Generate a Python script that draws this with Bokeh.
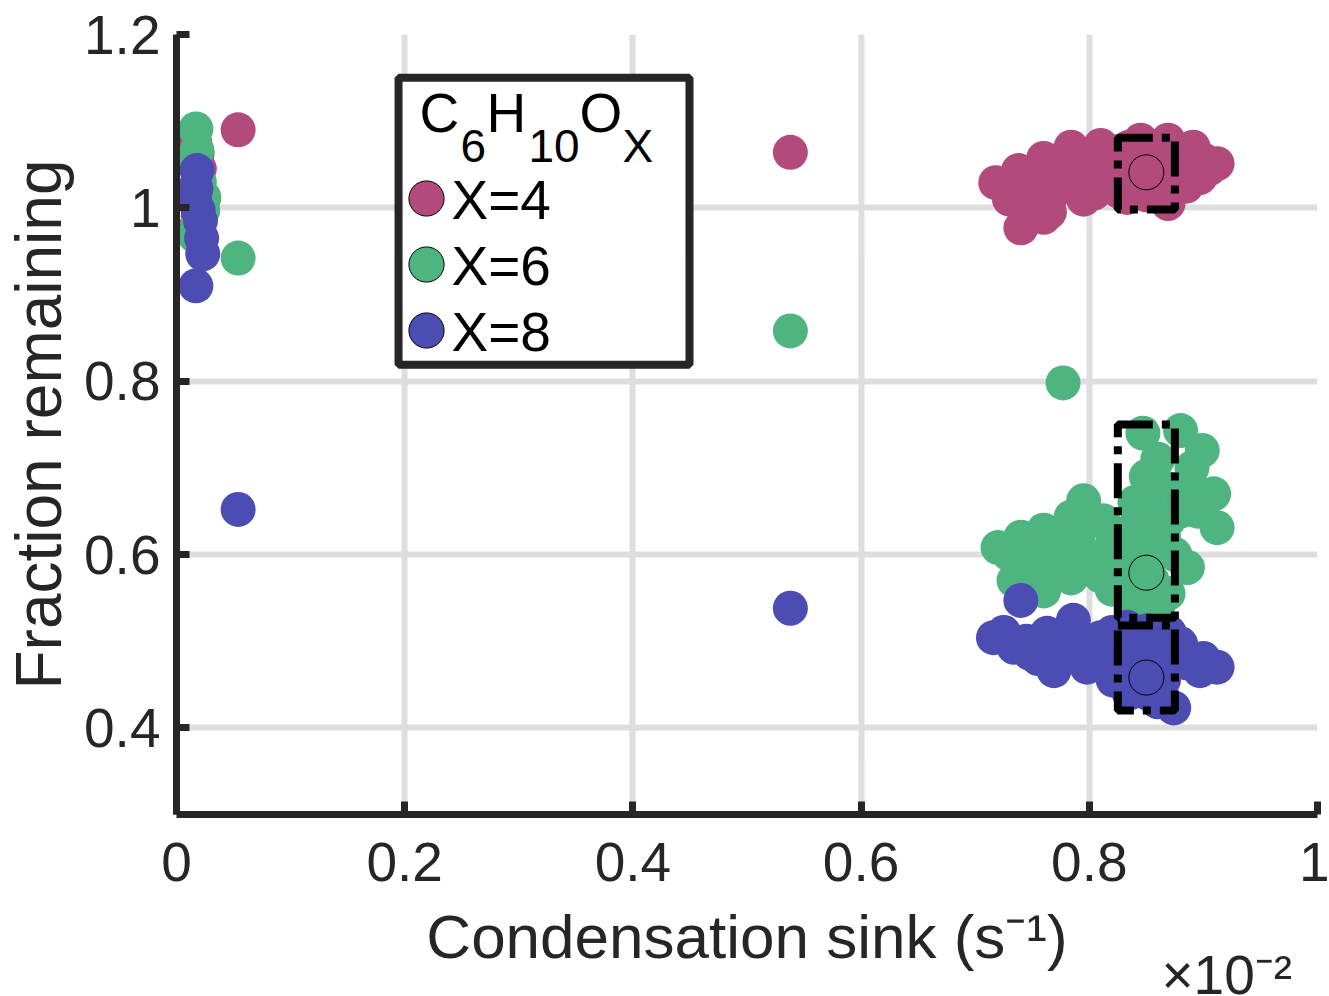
from bokeh.plotting import figure
from bokeh.models import Range1d, FixedTicker, Label, Legend, LegendItem, BoxAnnotation, Title
from bokeh.embed import file_html
from bokeh.resources import INLINE

# ---------------- data ----------------
x_ticks = [0, 0.2, 0.4, 0.6, 0.8, 1.0]
x_tick_labels = ["0", "0.2", "0.4", "0.6", "0.8", "1"]
y_ticks = [0.4, 0.6, 0.8, 1.0, 1.2]
y_tick_labels = ["0.4", "0.6", "0.8", "1", "1.2"]

series_names = ["X=4", "X=6", "X=8"]
series_colors = ["#B24A7C", "#4EB581", "#4C4DB2"]

x4 = [0.016, 0.018, 0.020, 0.017, 0.022, 0.019, 0.016, 0.021,
      0.054, 0.538,
      0.718, 0.740, 0.760, 0.738, 0.760, 0.784, 0.810, 0.804, 0.833, 0.869,
      0.869, 0.891, 0.912, 0.897, 0.845, 0.775, 0.730, 0.750, 0.770, 0.790,
      0.800, 0.820, 0.825, 0.840, 0.855, 0.860, 0.875, 0.880, 0.900, 0.905,
      0.885, 0.850, 0.815, 0.795, 0.745, 0.755, 0.830, 0.865,
      0.735, 0.765, 0.780, 0.810, 0.825, 0.835, 0.850, 0.870, 0.890, 0.895,
      0.860, 0.815, 0.790, 0.765]
y4 = [1.075, 1.062, 1.045, 1.025, 1.005, 0.990, 0.975, 1.012,
      1.090, 1.064,
      1.029, 0.977, 0.989, 1.043, 1.057, 1.070, 1.072, 1.017, 1.012, 1.005,
      1.078, 1.070, 1.051, 1.035, 1.078, 1.024, 1.010, 1.020, 1.045, 1.040,
      1.055, 1.045, 1.065, 1.030, 1.050, 1.065, 1.040, 1.060, 1.055, 1.045,
      1.025, 1.015, 1.030, 1.010, 1.000, 1.035, 1.050, 1.030,
      1.025, 1.010, 1.055, 1.050, 1.020, 1.070, 1.065, 1.055, 1.045, 1.060,
      1.020, 1.060, 1.025, 0.995]

x6 = [0.017, 0.018, 0.016, 0.020, 0.024, 0.023, 0.019, 0.016, 0.021,
      0.054, 0.538, 0.777,
      0.847, 0.880, 0.899, 0.860, 0.891, 0.909, 0.912, 0.886, 0.851, 0.869,
      0.795, 0.784, 0.760, 0.740, 0.720, 0.734, 0.760, 0.784, 0.819, 0.812,
      0.839, 0.862, 0.848, 0.869, 0.833, 0.804, 0.772, 0.750, 0.828, 0.855,
      0.750, 0.770, 0.790, 0.800, 0.820, 0.830, 0.845, 0.855, 0.865, 0.875,
      0.880, 0.895, 0.840, 0.850, 0.875, 0.890, 0.860, 0.745, 0.765, 0.790,
      0.810, 0.820, 0.840, 0.860, 0.730, 0.785]
y6 = [1.091, 1.066, 1.050, 1.030, 1.012, 0.997, 0.982, 0.968, 1.000,
      0.942, 0.858, 0.798,
      0.740, 0.743, 0.720, 0.682, 0.674, 0.670, 0.631, 0.585, 0.654, 0.639,
      0.662, 0.643, 0.628, 0.620, 0.608, 0.570, 0.558, 0.573, 0.608, 0.639,
      0.631, 0.608, 0.532, 0.555, 0.555, 0.593, 0.597, 0.600, 0.585, 0.600,
      0.610, 0.615, 0.620, 0.640, 0.625, 0.600, 0.590, 0.570, 0.620, 0.600,
      0.650, 0.650, 0.660, 0.690, 0.675, 0.700, 0.710, 0.585, 0.580, 0.585,
      0.575, 0.560, 0.550, 0.540, 0.600, 0.605]

x8 = [0.018, 0.017, 0.016, 0.019, 0.021, 0.022, 0.023, 0.017,
      0.054, 0.538,
      0.740, 0.716, 0.734, 0.769, 0.786, 0.763, 0.810, 0.833, 0.851, 0.880,
      0.912, 0.897, 0.874, 0.851, 0.821, 0.798, 0.862, 0.748, 0.804, 0.869,
      0.780, 0.840, 0.825, 0.890,
      0.725, 0.745, 0.755, 0.775, 0.790, 0.800, 0.815, 0.830, 0.840, 0.845,
      0.860, 0.865, 0.870, 0.885, 0.900, 0.835, 0.820, 0.780, 0.860]
y8 = [1.043, 1.022, 1.008, 0.997, 0.985, 0.965, 0.947, 0.910,
      0.652, 0.538,
      0.547, 0.504, 0.493, 0.466, 0.524, 0.509, 0.504, 0.516, 0.512, 0.497,
      0.470, 0.466, 0.423, 0.440, 0.455, 0.470, 0.470, 0.486, 0.489, 0.486,
      0.495, 0.480, 0.495, 0.480,
      0.510, 0.500, 0.480, 0.490, 0.500, 0.475, 0.490, 0.470, 0.500, 0.465,
      0.490, 0.455, 0.510, 0.475, 0.480, 0.440, 0.510, 0.510, 0.430]

mean_x = [0.85, 0.85, 0.85]
mean_y = [1.041, 0.579, 0.458]
box_left = [0.825, 0.825, 0.825]
box_right = [0.875, 0.875, 0.875]
box_bottom = [0.998, 0.527, 0.420]
box_top = [1.081, 0.750, 0.518]

x_title = "Condensation sink (s\u207b\u00b9)"
y_title = "Fraction remaining"
x_exponent = "\u00d710\u207b\u00b2"

FONT = "Liberation Sans"
DARK = "#262626"

# ---------------- figure ----------------
p = figure(width=1329, height=996, x_range=Range1d(0, 1), y_range=Range1d(0.3, 1.2),
           output_backend="svg", toolbar_location=None,
           min_border_left=176, min_border_right=12, min_border_top=34, min_border_bottom=182)
p.outline_line_color = None
p.background_fill_color = "white"

for ax, ticks, labels in ((p.xaxis[0], x_ticks, x_tick_labels), (p.yaxis[0], y_ticks, y_tick_labels)):
    ax.ticker = FixedTicker(ticks=ticks)
    ax.major_label_overrides = {t: l for t, l in zip(ticks, labels)}
    ax.axis_line_width = 7
    ax.axis_line_color = DARK
    ax.major_tick_line_width = 7
    ax.major_tick_line_color = DARK
    ax.major_tick_in = 13
    ax.major_tick_out = 0
    ax.minor_tick_line_color = None
    ax.major_label_text_font = FONT
    ax.major_label_text_font_size = "55px"
    ax.major_label_text_color = DARK
    ax.axis_label_text_font = FONT
    ax.axis_label_text_font_style = "normal"
    ax.axis_label_text_color = DARK

p.xaxis.major_label_standoff = 28
p.xaxis.axis_label = x_title
p.xaxis.axis_label_text_font_size = "62px"
p.xaxis.axis_label_standoff = 18

p.yaxis.major_label_standoff = 16
p.yaxis.axis_label = y_title
p.yaxis.axis_label_text_font_size = "64px"
p.yaxis.axis_label_standoff = 6

p.grid.grid_line_color = "#dedede"
p.grid.grid_line_width = 6

# data points
xs = [x4, x6, x8]
ys = [y4, y6, y8]
for i in range(3):
    p.scatter(xs[i], ys[i], size=35, fill_color=series_colors[i], line_color=None)

mean_renderers = []
for i in range(3):
    r = p.scatter([mean_x[i]], [mean_y[i]], size=35, fill_color=series_colors[i],
                  line_color="black", line_width=1)
    mean_renderers.append(r)

p.quad(left=box_left, right=box_right, bottom=box_bottom, top=box_top,
       fill_color=None, line_color="black", line_width=8, line_dash="35 9 8 9")

# legend box
legend_box = BoxAnnotation(left=0.1946, right=0.4496, top=1.150, bottom=0.819,
                           fill_color="white", fill_alpha=1.0,
                           line_color=DARK, line_alpha=1.0, line_width=8)
p.add_layout(legend_box)

# legend swatches (one legend per entry so the rows sit 66 px apart)
legend_bottoms = [572, 506, 440]
for i in range(3):
    lg = Legend(items=[LegendItem(label=" ", renderers=[mean_renderers[i]])],
                location=(206, legend_bottoms[i]), orientation="vertical",
                glyph_width=88, glyph_height=88, spacing=0, padding=0, margin=0,
                label_standoff=0, border_line_alpha=0, background_fill_alpha=0,
                label_text_font=FONT, label_text_font_size="20px")
    p.add_layout(lg)

# legend entry texts
entry_y = [1.0085, 0.9324, 0.8562]
for i in range(3):
    p.add_layout(Label(x=0.2410, y=entry_y[i], text=series_names[i], text_font=FONT,
                       text_font_size="55px", text_color="black",
                       text_baseline="alphabetic", text_align="left"))

# legend title C6H10OX
title_parts = [("C", 0.2130, 1.1089, "55px"), ("6", 0.2489, 1.0719, "46px"),
               ("H", 0.2717, 1.1089, "55px"), ("10", 0.3085, 1.0719, "46px"),
               ("O", 0.3532, 1.1089, "55px"), ("X", 0.3909, 1.0719, "46px")]
for txt, tx, ty, fs in title_parts:
    p.add_layout(Label(x=tx, y=ty, text=txt, text_font=FONT, text_font_size=fs,
                       text_color="black", text_baseline="alphabetic", text_align="left"))

# exponent note of the x axis, bottom right
p.add_layout(Title(text=x_exponent, align="left", vertical_align="top", offset=985,
                   text_font=FONT, text_font_size="55px", text_font_style="normal",
                   text_color=DARK, standoff=-60), "below")

open("out.html", "w").write(file_html(p, INLINE))
